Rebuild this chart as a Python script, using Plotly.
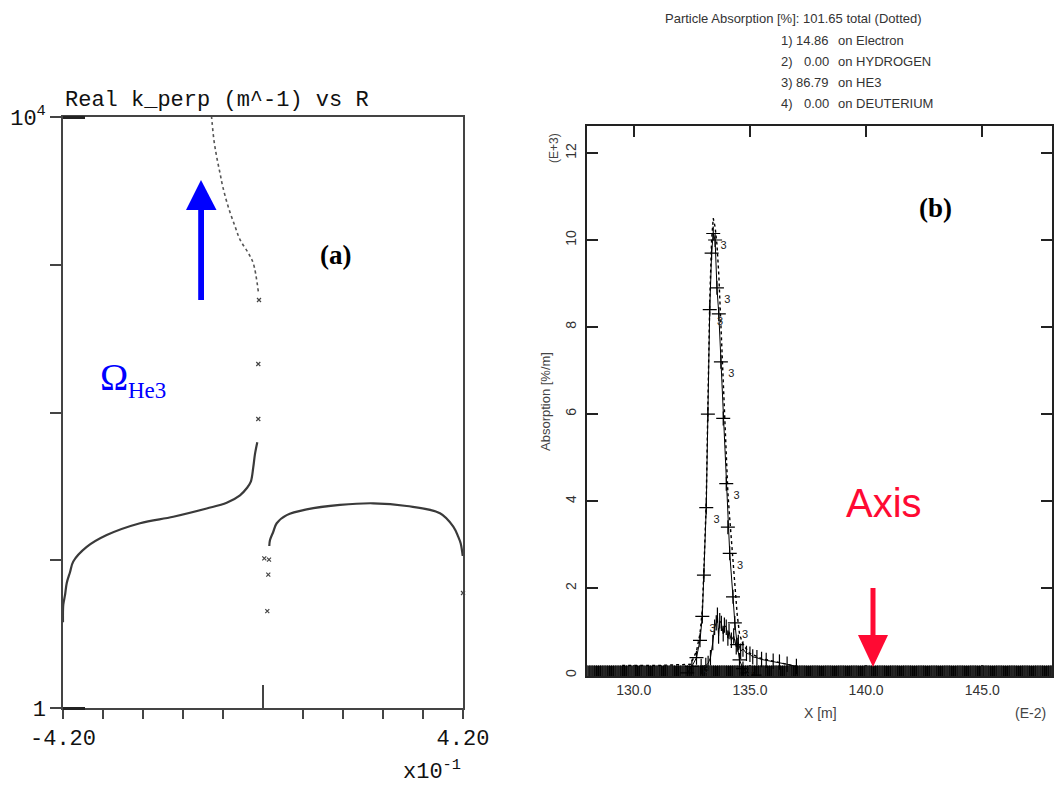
import numpy as np
import plotly.graph_objects as go

W, H = 1055, 785


def px(x):
    return x / W


def py(y):
    return 1 - y / H


# ---------------- Panel (a): Real k_perp vs R ----------------
a_left_x = [-0.42, -0.4194, -0.4158, -0.4122, -0.4053, -0.3984, -0.3702, -0.3282, -0.2583,
            -0.1884, -0.1182, -0.0762, -0.0483, -0.0342, -0.0258, -0.0204, -0.0168, -0.0120]
a_left_k = [3.8, 5.0, 5.8, 7.0, 8.3, 9.8, 12.3, 14.8, 17.8,
            19.7, 22.4, 24.5, 27.5, 30.7, 33.9, 42.7, 52.5, 63]
a_iso_x = [-0.0099, -0.0099, -0.0084, 0.0090, 0.0111, 0.0027, 0.0126, 0.42]
a_iso_k = [90.4, 213, 577, 4.53, 8.0, 10.3, 10.1, 6.0]
a_up_x = [-0.0099, -0.0204, -0.0309, -0.0483, -0.0588, -0.0729, -0.0846, -0.0903,
          -0.0972, -0.1029, -0.1077, -0.108]
a_up_k = [660, 1023, 1200, 1480, 1820, 2460, 3390, 4170, 5370, 6920, 9770, 10000]
a_right_x = [0.0132, 0.0147, 0.0216, 0.0288, 0.0498, 0.0918, 0.1617, 0.2316, 0.3018,
             0.3717, 0.3996, 0.4101, 0.4152, 0.4194]
a_right_k = [12.5, 13.7, 15.6, 17.8, 20.2, 22.1, 23.7, 24.3, 23.3,
             20.8, 16.9, 14.4, 13.0, 10.7]

a_xtickvals = [-0.42, -0.336, -0.252, -0.168, -0.084, 0.0, 0.084, 0.168, 0.252, 0.336, 0.42]
a_xticktext = ["-4.20", "", "", "", "", "", "", "", "", "", "4.20"]
a_ytickvals = [1, 10, 100, 1000, 10000]
a_yticktext = ["1", "", "", "", "10<sup>4</sup>"]

# ---------------- Panel (b): Absorption vs X ----------------
b_x_grid = np.round(np.arange(128.0, 148.001, 0.08), 3)
b_hydrogen = np.zeros(len(b_x_grid))
b_deuterium = np.zeros(len(b_x_grid))

b_he3_x = [132.3, 132.5, 132.7, 132.85, 132.95, 133.02, 133.12, 133.19, 133.27, 133.35,
           133.42, 133.5, 133.58, 133.66, 133.75, 133.85, 133.98, 134.05, 134.13, 134.27,
           134.35, 134.45, 134.55, 134.7, 134.9, 135.2]
b_he3_y = [0.05, 0.2, 0.4, 0.8, 1.35, 2.3, 3.85, 6.0, 8.4, 9.7,
           10.15, 10.0, 8.9, 8.3, 7.2, 5.9, 4.4, 3.4, 2.8, 1.8,
           1.2, 0.7, 0.35, 0.15, 0.05, 0.0]
b_he3_marks = ["", "", "3", "", "3", "", "3", "", "3", "",
               "3", "", "3", "", "3", "", "3", "", "3", "",
               "3", "", "3", "", "", ""]

b_tot_x = [129.5, 131.0, 132.45, 132.7, 132.85, 132.95, 133.02, 133.12, 133.19, 133.27,
           133.35, 133.42, 133.5, 133.58, 133.66, 133.75, 133.85, 133.98, 134.05, 134.13,
           134.27, 134.35, 134.45, 134.55, 134.7, 135.0, 135.5, 136.0, 136.6, 137.0]
b_tot_y = [0.22, 0.22, 0.25, 0.55, 0.95, 1.5, 2.45, 4.0, 6.2, 8.6,
           10.0, 10.5, 10.3, 9.9, 9.2, 8.1, 6.6, 5.0, 4.2, 3.6,
           2.6, 2.0, 1.4, 0.95, 0.7, 0.5, 0.38, 0.32, 0.25, 0.2]

b_el_x = [132.9, 133.1, 133.2, 133.3, 133.4, 133.48, 133.55, 133.6, 133.65, 133.7,
          133.77, 133.85, 133.9, 133.98, 134.05, 134.1, 134.2, 134.3, 134.41, 134.5,
          134.6, 134.7, 134.85, 135.0, 135.12, 135.3, 135.5, 135.7, 136.0, 136.27,
          136.6, 137.0]
b_el_y = [0.2, 0.22, 0.27, 0.4, 0.75, 1.1, 1.2, 1.38, 0.9, 1.25,
          1.19, 0.95, 1.15, 1.1, 0.85, 1.0, 0.8, 0.9, 0.65, 0.75,
          0.55, 0.6, 0.5, 0.48, 0.42, 0.4, 0.36, 0.34, 0.32, 0.3,
          0.25, 0.2]

b_xtickvals = [130, 135, 140, 145]
b_xticktext = ["130.0", "135.0", "140.0", "145.0"]
b_ytickvals = [0, 2, 4, 6, 8, 10, 12]
b_yticktext = ["0", "2", "4", "6", "8", "10", "12"]

header_lines = ["1)", "2)", "3)", "4)"]
header_vals = ["14.86", "0.00", "86.79", "0.00"]
header_names = ["on Electron", "on HYDROGEN", "on HE3", "on DEUTERIUM"]

MONO = "Liberation Mono, Courier New, monospace"
SANS = "Liberation Sans, Arial, sans-serif"
SERIF = "Liberation Serif, Times New Roman, serif"

fig = go.Figure()

# panel (a) traces
fig.add_trace(go.Scatter(x=a_left_x, y=a_left_k, mode="lines", line=dict(color="#3a3a3a", width=2.2, shape="spline"),
                         xaxis="x", yaxis="y", showlegend=False))
fig.add_trace(go.Scatter(x=a_right_x, y=a_right_k, mode="lines", line=dict(color="#3a3a3a", width=2.2, shape="spline"),
                         xaxis="x", yaxis="y", showlegend=False))
fig.add_trace(go.Scatter(x=a_up_x, y=a_up_k, mode="lines", line=dict(color="#555555", width=1.6, dash="dot", shape="spline"),
                         xaxis="x", yaxis="y", showlegend=False))
fig.add_trace(go.Scatter(x=a_iso_x, y=a_iso_k, mode="markers",
                         marker=dict(symbol="x-thin", size=4, line=dict(color="#444444", width=1.2)),
                         xaxis="x", yaxis="y", showlegend=False, cliponaxis=False))

# panel (b) traces: species 2 and 4 sit at zero and form the dense band
fig.add_trace(go.Scatter(x=b_x_grid, y=b_hydrogen, mode="markers",
                         marker=dict(symbol="line-ns", size=14, line=dict(color="black", width=1.4)),
                         xaxis="x2", yaxis="y2", showlegend=False))
fig.add_trace(go.Scatter(x=b_x_grid + 0.04, y=b_deuterium, mode="markers",
                         marker=dict(symbol="line-ns", size=13, line=dict(color="#111", width=1.1)),
                         xaxis="x2", yaxis="y2", showlegend=False))
fig.add_trace(go.Scatter(x=b_el_x, y=b_el_y, mode="lines+markers",
                         line=dict(color="black", width=1),
                         marker=dict(symbol="line-ns", size=11, line=dict(color="black", width=1.2)),
                         xaxis="x2", yaxis="y2", showlegend=False))
fig.add_trace(go.Scatter(x=b_tot_x, y=b_tot_y, mode="lines",
                         line=dict(color="black", width=1.4, dash="dot"),
                         xaxis="x2", yaxis="y2", showlegend=False))
fig.add_trace(go.Scatter(x=b_he3_x, y=b_he3_y, mode="lines+markers+text",
                         line=dict(color="black", width=1),
                         marker=dict(symbol="cross-thin", size=10, line=dict(color="black", width=1.2)),
                         text=b_he3_marks, textposition="bottom right",
                         textfont=dict(family=SANS, size=11, color="#222"),
                         xaxis="x2", yaxis="y2", showlegend=False))

fig.update_layout(
    width=W, height=H, autosize=False,
    margin=dict(l=0, r=0, t=0, b=0),
    paper_bgcolor="white", plot_bgcolor="white",
    xaxis=dict(domain=[px(63), px(463)], range=[-0.42, 0.42], anchor="y", automargin=False,
               showline=True, linecolor="#444", linewidth=1.5, mirror=True,
               ticks="outside", ticklen=9, tickwidth=1.5, tickcolor="#444",
               tickmode="array", tickvals=a_xtickvals, ticktext=a_xticktext,
               tickfont=dict(family=MONO, size=22, color="#111"),
               minor=dict(tickmode="array", tickvals=[0.0], ticks="inside", ticklen=23,
                          tickwidth=1.5, tickcolor="#444"),
               showgrid=False, zeroline=False),
    yaxis=dict(domain=[py(708), py(117)], type="log", range=[0, 4], anchor="x", automargin=False,
               showline=True, linecolor="#444", linewidth=1.5, mirror=True,
               ticks="outside", ticklen=11, tickwidth=1.5, tickcolor="#444",
               tickmode="array", tickvals=a_ytickvals, ticktext=a_yticktext,
               tickfont=dict(family=MONO, size=22, color="#111"),
               minor=dict(tickmode="array", tickvals=[1, 10000], ticks="inside", ticklen=22,
                          tickwidth=2.5, tickcolor="#222"),
               showgrid=False, zeroline=False),
    xaxis2=dict(domain=[px(587.3), px(1052)], range=[128, 148], anchor="y2", automargin=False,
                showline=True, linecolor="#222", linewidth=1.5, mirror="ticks",
                ticks="inside", ticklen=11, tickwidth=1.5, tickcolor="#222",
                tickmode="array", tickvals=b_xtickvals, ticktext=b_xticktext,
                tickfont=dict(family=SANS, size=14, color="#333"),
                showgrid=False, zeroline=False),
    yaxis2=dict(domain=[py(676), py(126)], range=[-0.02, 12.62], anchor="x2", automargin=False,
                showline=True, linecolor="#222", linewidth=1.5, mirror="ticks",
                ticks="inside", ticklen=11, tickwidth=1.5, tickcolor="#222",
                tickmode="array", tickvals=b_ytickvals, ticktext=b_yticktext,
                tickangle=-90, ticklabelstandoff=4,
                tickfont=dict(family=SANS, size=14, color="#333"),
                showgrid=False, zeroline=False),
)

ann = []
# panel (a) texts
ann.append(dict(text="Real k_perp (m^-1) vs R", x=px(63), y=py(101), xanchor="left", yanchor="middle",
                font=dict(family=MONO, size=22, color="#111")))
ann.append(dict(text="x10<sup>-1</sup>", x=px(432), y=py(770), xanchor="center", yanchor="middle",
                font=dict(family=MONO, size=22, color="#111")))
ann.append(dict(text="<b>(a)</b>", x=px(335), y=py(255), xanchor="center", yanchor="middle",
                font=dict(family=SERIF, size=27, color="black")))
ann.append(dict(text="Ω", x=px(114), y=py(377), xanchor="center", yanchor="middle",
                font=dict(family=SERIF, size=38, color="#0000ff")))
ann.append(dict(text="He3", x=px(146.5), y=py(390), xanchor="center", yanchor="middle",
                font=dict(family=SERIF, size=23, color="#0000ff")))
# panel (b) texts
ann.append(dict(text="Particle Absorption [%]: 101.65 total (Dotted)", x=px(793), y=py(19),
                xanchor="center", yanchor="middle", font=dict(family=SANS, size=13, color="#333")))
for i in range(4):
    yy = py(41 + 21 * i)
    ann.append(dict(text=header_lines[i], x=px(779), y=yy, xanchor="left", yanchor="middle",
                    font=dict(family=SANS, size=13, color="#333")))
    ann.append(dict(text=header_vals[i], x=px(831), y=yy, xanchor="right", yanchor="middle",
                    font=dict(family=SANS, size=13, color="#333")))
    ann.append(dict(text=header_names[i], x=px(836), y=yy, xanchor="left", yanchor="middle",
                    font=dict(family=SANS, size=13, color="#333")))
ann.append(dict(text="(E+3)", x=px(554), y=py(148), xanchor="center", yanchor="middle", textangle=-90,
                font=dict(family=SANS, size=12, color="#444")))
ann.append(dict(text="Absorption [%/m]", x=px(545), y=py(402), xanchor="center", yanchor="middle", textangle=-90,
                font=dict(family=SANS, size=13, color="#444")))
ann.append(dict(text="X [m]", x=px(820), y=py(713), xanchor="center", yanchor="middle",
                font=dict(family=SANS, size=14, color="#444")))
ann.append(dict(text="(E-2)", x=px(1030), y=py(713), xanchor="center", yanchor="middle",
                font=dict(family=SANS, size=14, color="#444")))
ann.append(dict(text="<b>(b)</b>", x=px(936), y=py(208), xanchor="center", yanchor="middle",
                font=dict(family=SERIF, size=27, color="black")))
ann.append(dict(text="Axis", x=px(884), y=py(503), xanchor="center", yanchor="middle",
                font=dict(family=SANS, size=40, color="#ff0a33")))
for a in ann:
    a.update(xref="paper", yref="paper", showarrow=False)
fig.update_layout(annotations=ann)


def path(points):
    return "M " + " L ".join(f"{px(x):.5f},{py(y):.5f}" for x, y in points) + " Z"


shapes = [
    # blue arrow
    dict(type="rect", xref="paper", yref="paper", x0=px(198.2), x1=px(204), y0=py(300), y1=py(208),
         fillcolor="#0000ff", line=dict(width=0)),
    dict(type="path", xref="paper", yref="paper", path=path([(201, 180), (186, 210), (216.5, 210)]),
         fillcolor="#0000ff", line=dict(width=0)),
    # red arrow
    dict(type="rect", xref="paper", yref="paper", x0=px(870.5), x1=px(875.5), y0=py(588), y1=py(637),
         fillcolor="#ff0a33", line=dict(width=0)),
    dict(type="path", xref="paper", yref="paper", path=path([(858, 635), (888, 635), (873, 667)]),
         fillcolor="#ff0a33", line=dict(width=0)),
]
fig.update_layout(shapes=shapes)

fig.write_html("out.html")
